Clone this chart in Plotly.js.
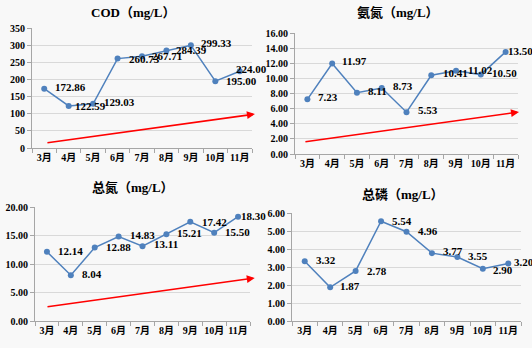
<!DOCTYPE html>
<html>
<head>
<meta charset="utf-8">
<script src="https://cdn.plot.ly/plotly-3.0.1.min.js"></script>
<style>html,body{margin:0;padding:0;background:#f8f8f8;}#chart{width:532px;height:348px;}</style>
</head>
<body>
<div id="chart"></div>
<script>
// ---- data ----
const months = ["3月","4月","5月","6月","7月","8月","9月","10月","11月"];
const codValues = [172.86, 122.59, 129.03, 260.73, 267.71, 284.39, 299.33, 195.00, 224.00];
const nh3nValues = [7.23, 11.97, 8.11, 8.73, 5.53, 10.41, 11.02, 10.50, 13.50];
const tnValues = [12.14, 8.04, 12.88, 14.83, 13.11, 15.21, 17.42, 15.50, 18.30];
const tpValues = [3.32, 1.87, 2.78, 5.54, 4.96, 3.77, 3.55, 2.90, 3.20];
const panelTitles = ["COD（mg/L）", "氨氮（mg/L）", "总氮（mg/L）", "总磷（mg/L）"];
// trend arrows: [startIndex, startValue, endIndex, endValue]
const codTrend = [0.07, 14.6, 8.62, 99];
const nh3nTrend = [-0.14, 1.6, 8.54, 5.55];
const tnTrend = [-0.04, 2.46, 8.7, 7.54];

// ---- styling (label offsets in px, relative to the point) ----
const codLabelDx = [9, 4, 9, 9, 8, 8, 8, 9, -6];
const codLabelDy = [2, 0, 2, 0, 0, 0, 2, 0, 2];
const nh3nLabelDx = [9, 8, 9, 9, 9, 10, 10, 9, 0];
const nh3nLabelDy = [2, 2, 2, 2, 2, 2, 1, 2, 1];
const tnLabelDx = [9, 9, 9, 9, 9, 9, 10, 9, 1];
const tnLabelDy = [1, 1, 1, 1, 2, 1, 0, 1, 1];
const tpLabelDx = [9, 8, 9, 9, 9, 9, 9, 8, 4];
const tpLabelDy = [1, 1, 0, 0, 1, 2, 1, -1, 1];

const FONT = 'Liberation Serif, Times New Roman, Noto Sans CJK SC, serif';
const BLUE = '#4f81bd';

const panels = [
  {vals: codValues, dx: codLabelDx, dy: codLabelDy, x: [32/532, 252/532], y: [200/348, 320/348], range: [0, 350], dtick: 50, tickfmt: 'd', title: panelTitles[0], tx: 133/532, ty: 1 - 13/348, trend: codTrend},
  {vals: nh3nValues, dx: nh3nLabelDx, dy: nh3nLabelDy, x: [295/532, 518/532], y: [194/348, 315/348], range: [0, 16], dtick: 2, tickfmt: '.2f', title: panelTitles[1], tx: 398/532, ty: 1 - 13/348, trend: nh3nTrend},
  {vals: tnValues, dx: tnLabelDx, dy: tnLabelDy, x: [35/532, 250/532], y: [27/348, 141/348], range: [0, 20], dtick: 5, tickfmt: '.2f', title: panelTitles[2], tx: 133/532, ty: 1 - 187/348, trend: tnTrend},
  {vals: tpValues, dx: tpLabelDx, dy: tpLabelDy, x: [292/532, 521/532], y: [27/348, 135/348], range: [0, 6], dtick: 1, tickfmt: '.2f', title: panelTitles[3], tx: 403/532, ty: 1 - 194/348, trend: null}
];

const data = [];
const layout = {
  width: 532, height: 348,
  margin: {l: 0, r: 0, t: 0, b: 0},
  paper_bgcolor: '#f8f8f8', plot_bgcolor: '#f8f8f8',
  showlegend: false,
  font: {family: FONT, size: 10, color: '#000'},
  annotations: []
};

panels.forEach((p, i) => {
  const n = i + 1;
  const xa = n === 1 ? 'x' : 'x' + n;
  const ya = n === 1 ? 'y' : 'y' + n;
  data.push({
    type: 'scatter', mode: 'lines+markers',
    x: months, y: p.vals,
    line: {color: BLUE, width: 1.5},
    marker: {color: BLUE, size: 6},
    cliponaxis: false,
    xaxis: xa, yaxis: ya, hoverinfo: 'skip'
  });
  p.vals.forEach((v, j) => {
    layout.annotations.push({
      xref: xa, yref: ya, x: months[j], y: v,
      text: v.toFixed(2), showarrow: false,
      xanchor: 'left', yanchor: 'middle',
      xshift: p.dx[j], yshift: p.dy[j],
      font: {family: FONT, size: 11, color: '#000', weight: 'bold'}
    });
  });
  layout['xaxis' + (n === 1 ? '' : n)] = {
    domain: p.x, anchor: ya, type: 'category',
    range: [-0.5, 8.5], tickangle: 0,
    tickson: 'boundaries', ticks: 'outside', ticklen: 4, tickcolor: '#a6a6a6',
    showline: true, linecolor: '#a6a6a6', linewidth: 1,
    showgrid: false, zeroline: false,
    tickfont: {family: FONT, size: 10, color: '#000', weight: 'bold'}
  };
  layout['yaxis' + (n === 1 ? '' : n)] = {
    domain: p.y, anchor: xa,
    range: p.range, dtick: p.dtick, tick0: 0, tickformat: p.tickfmt,
    ticks: 'outside', ticklen: 4, tickcolor: '#a6a6a6',
    showline: true, linecolor: '#a6a6a6', linewidth: 1,
    showgrid: true, gridcolor: '#d9d9d9', gridwidth: 1, zeroline: false,
    tickfont: {family: FONT, size: 10, color: '#000', weight: 'bold'}
  };
  layout.annotations.push({
    xref: 'paper', yref: 'paper', x: p.tx, y: p.ty,
    xanchor: 'center', yanchor: 'middle', showarrow: false,
    text: p.title,
    font: {family: FONT, size: 13, color: '#000', weight: 'bold'}
  });
  if (p.trend) {
    layout.annotations.push({
      xref: xa, yref: ya, axref: xa, ayref: ya,
      x: p.trend[2], y: p.trend[3], ax: p.trend[0], ay: p.trend[1],
      text: '', showarrow: true, arrowhead: 2, arrowsize: 1, arrowwidth: 1.6,
      arrowcolor: '#ff0000', standoff: 0, startstandoff: 0
    });
  }
});

Plotly.newPlot('chart', data, layout, {displayModeBar: false, staticPlot: true});
</script>
</body>
</html>
